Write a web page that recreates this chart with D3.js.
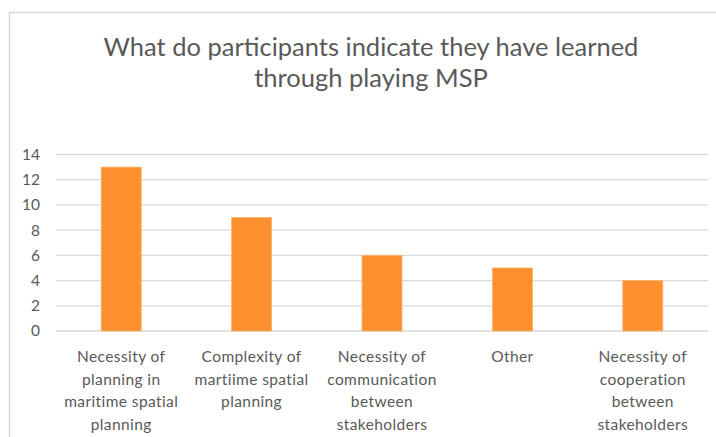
<!DOCTYPE html>
<html>
<head>
<meta charset="utf-8">
<script src="https://cdn.jsdelivr.net/npm/d3@7"></script>
<style>
  html, body { margin: 0; padding: 0; background: #fff; }
  svg { display: block; }
  text { font-family: Lato, "Open Sans", sans-serif; fill: #595959; }
</style>
</head>
<body>
<svg id="chart" width="716" height="437"></svg>
<script>
// What participants report having learned
const categories = [
  ["Necessity of", "planning in", "maritime spatial", "planning"],
  ["Complexity of", "martiime spatial", "planning"],
  ["Necessity of", "communication", "between", "stakeholders"],
  ["Other"],
  ["Necessity of", "cooperation", "between", "stakeholders"]
];
const counts = [13, 9, 6, 5, 4];
const yTicks = [0, 2, 4, 6, 8, 10, 12, 14];
const titleLines = ["What do participants indicate they have learned", "through playing MSP"];

const svg = d3.select("#chart");
const plot = { left: 56, right: 708, top: 154.5, bottom: 331 };

// Outer chart frame
svg.append("rect")
  .attr("x", 9.5).attr("y", 12.5)
  .attr("width", 720).attr("height", 440)
  .attr("fill", "#fff")
  .attr("stroke", "#d9d9d9").attr("stroke-width", 1.5);

// Title
svg.append("g").selectAll("text")
  .data(titleLines)
  .join("text")
  .attr("x", 371)
  .attr("y", (d, i) => 56 + i * 31)
  .attr("text-anchor", "middle")
  .attr("font-size", 25.5)
  .text(d => d);

const idx = d3.range(categories.length);
const x = d3.scaleBand()
  .domain(idx)
  .range([plot.left, plot.right])
  .paddingInner(0.693)
  .paddingOuter(0.3465);

const y = d3.scaleLinear()
  .domain([0, 14])
  .range([plot.bottom, plot.top]);

// Horizontal gridlines
svg.append("g").selectAll("line")
  .data(yTicks)
  .join("line")
  .attr("x1", plot.left).attr("x2", plot.right)
  .attr("y1", d => y(d)).attr("y2", d => y(d))
  .attr("stroke", "#d9d9d9").attr("stroke-width", 1.3);

// Y axis labels
const yAxis = d3.axisLeft(y).tickValues(yTicks).tickSize(0).tickPadding(0);
const ya = svg.append("g")
  .attr("transform", `translate(${plot.left - 16},0)`)
  .call(yAxis);
ya.select(".domain").remove();
ya.selectAll("text")
  .attr("font-size", 15.5)
  .style("font-family", "Lato, 'Open Sans', sans-serif")
  .attr("fill", "#595959");

// Bars
svg.append("g").selectAll("rect")
  .data(counts)
  .join("rect")
  .attr("x", (d, i) => x(i))
  .attr("width", x.bandwidth())
  .attr("y", d => y(d))
  .attr("height", d => y(0) - y(d))
  .attr("fill", "#fd8f2f")
  .attr("stroke", "#fdb36a").attr("stroke-width", 0.8);

// Category labels (wrapped)
const xa = svg.append("g");
categories.forEach((lines, i) => {
  const t = xa.append("text")
    .attr("text-anchor", "middle")
    .attr("font-size", 15.5)
    .attr("letter-spacing", 0.4)
    .attr("x", x(i) + x.bandwidth() / 2)
    .attr("y", 362);
  lines.forEach((ln, k) => {
    t.append("tspan")
      .attr("x", x(i) + x.bandwidth() / 2)
      .attr("dy", k === 0 ? 0 : 22.7)
      .text(ln);
  });
});
</script>
</body>
</html>
